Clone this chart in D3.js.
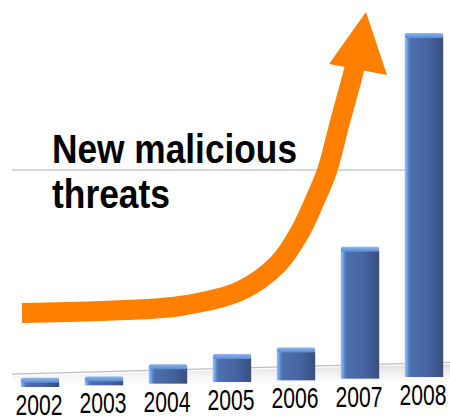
<!DOCTYPE html>
<html><head><meta charset="utf-8">
<script src="https://cdn.jsdelivr.net/npm/d3@7"></script>
<style>body{margin:0;background:#fff;overflow:hidden}</style></head>
<body><svg id="c" width="450" height="420"></svg>
<script>
// ---- data ----
const years = ["2002","2003","2004","2005","2006","2007","2008"];
const threats = [20000, 19000, 70000, 111000, 135000, 613000, 1638000];
const gridTicks = [1000000];
const titleLines = ["New malicious", "threats"];
// decorative trend arrow (annotation path, pixel space)
const arrowPts = [[22,313],[100,311],[180,306],[240,291],[278,264],[300,232],[315,200],[327,171],[340,122],[352,78],[356,62]];
const arrowHead = [[366,12],[329,64],[387,75]];

const svg = d3.select("#c");
const defs = svg.append("defs");

const x = d3.scaleBand().domain(years).range([8,456]).paddingInner(0.4).paddingOuter(0.2);
const y = d3.scaleLinear().domain([0, 1000000]).range([377, 170]);
// perspective floor: bottom of each bar depends on x
const floorY = d3.scaleLinear().domain([40, 424]).range([387, 377]);

// gradients
const gf = defs.append("linearGradient").attr("id","front").attr("x1",0).attr("x2",1).attr("y1",0).attr("y2",0);
[[0,"#93c3f6"],[0.07,"#6d98dc"],[0.14,"#4c70b0"],[0.6,"#46649f"],[1,"#384f80"]].forEach(s=>gf.append("stop").attr("offset",s[0]).attr("stop-color",s[1]));
const gc = defs.append("linearGradient").attr("id","cap").attr("x1",0).attr("x2",0).attr("y1",0).attr("y2",1);
[[0,"#8ab7f0"],[1,"#5d89cf"]].forEach(s=>gc.append("stop").attr("offset",s[0]).attr("stop-color",s[1]));
const gs = defs.append("linearGradient").attr("id","shadow").attr("x1",0).attr("x2",0).attr("y1",0).attr("y2",1);
[[0,"#d8d8d8",0.9],[1,"#ffffff",0]].forEach(s=>gs.append("stop").attr("offset",s[0]).attr("stop-color",s[1]).attr("stop-opacity",s[2]));

// gridline
svg.selectAll("line.grid").data(gridTicks).join("line")
  .attr("x1",12).attr("x2",405).attr("y1",d=>y(d)).attr("y2",d=>y(d))
  .attr("stroke","#c9c9c9").attr("stroke-width",1.5);

// floor back line with soft shadow
svg.append("path")
  .attr("d", `M12,${floorY(0)-12} L450,${floorY(450)-12} L450,${floorY(450)+2} L12,${floorY(0)+2}Z`)
  .attr("fill","url(#shadow)");
svg.append("line").attr("x1",12).attr("x2",450)
  .attr("y1",floorY(0)-14).attr("y2",floorY(450)-14)
  .attr("stroke","#bdbdbd").attr("stroke-width",1.2);

// bars
const cap = 5;
const data = years.map((yr,i)=>({yr, v:threats[i]}));
const bars = svg.selectAll("g.bar").data(data).join("g").attr("class","bar");
bars.each(function(d){
  const g = d3.select(this);
  const bx = x(d.yr), bw = x.bandwidth();
  const bottom = floorY(bx + bw/2);
  const h = (y(0) - y(d.v)) + cap;
  const top = bottom - h;
  g.append("rect").attr("x",bx).attr("y",top+cap-1).attr("width",bw).attr("height",Math.max(1,h-cap+1))
    .attr("fill","url(#front)");
  g.append("rect").attr("x",bx).attr("y",top).attr("width",bw).attr("height",cap).attr("rx",2)
    .attr("fill","url(#cap)");
});

// arrow
svg.append("path").datum(arrowPts)
  .attr("d", d3.line().curve(d3.curveCatmullRom.alpha(0.5)))
  .attr("fill","none").attr("stroke","#ff7f00").attr("stroke-width",20).attr("stroke-linecap","butt");
svg.append("path").datum(arrowHead)
  .attr("d", d3.line().curve(d3.curveLinearClosed))
  .attr("fill","#ff7f00");

// title
const tt = svg.append("text").attr("font-family","'Liberation Sans',Arial,sans-serif")
  .attr("font-weight","bold").attr("font-size",41).attr("fill","#000");
tt.append("tspan").attr("x",52).attr("y",163).attr("textLength",245).attr("lengthAdjust","spacingAndGlyphs").text(titleLines[0]);
tt.append("tspan").attr("x",52).attr("y",208).attr("textLength",118).attr("lengthAdjust","spacingAndGlyphs").text(titleLines[1]);

// year labels
svg.selectAll("text.yr").data(years).join("text").attr("class","yr")
  .attr("x", d=>x(d)+x.bandwidth()/2 - 1)
  .attr("y", d=>floorY(x(d)+x.bandwidth()/2)+28)
  .attr("text-anchor","middle")
  .attr("font-family","'Liberation Sans',Arial,sans-serif")
  .attr("font-size",30).attr("fill","#000")
  .attr("textLength",47).attr("lengthAdjust","spacingAndGlyphs")
  .text(d=>d);
</script></body></html>
